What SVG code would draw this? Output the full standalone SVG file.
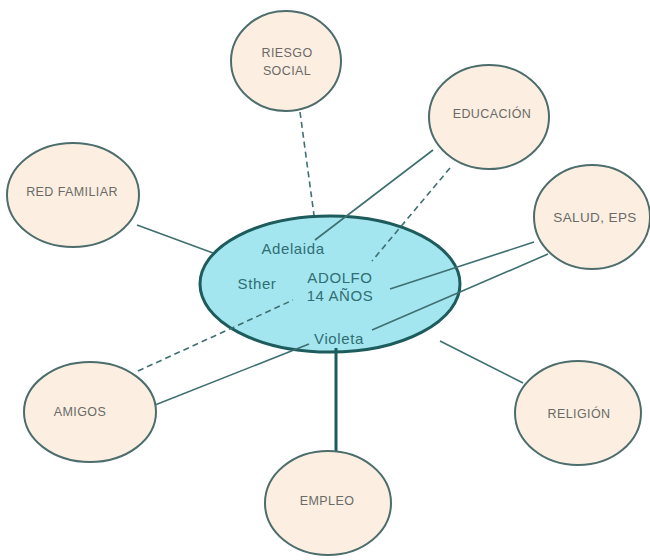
<svg xmlns="http://www.w3.org/2000/svg" width="650" height="560" viewBox="0 0 650 560">
<style>
.node ellipse{fill:#fcefe2;stroke:#4d6c6c;stroke-width:2}
.nt{font-family:"Liberation Sans",Arial,sans-serif;font-size:12.5px;letter-spacing:0.4px;fill:#6a6a66;text-anchor:middle}
.ct{font-family:"Liberation Sans",Arial,sans-serif;font-size:15px;letter-spacing:0.6px;fill:#2f6e72;text-anchor:middle}
.s{stroke:#3f6f70;stroke-width:1.6;fill:none}
.d{stroke:#3f6f70;stroke-width:1.6;fill:none;stroke-dasharray:6 4}
</style>
<rect width="650" height="560" fill="#ffffff"/>
<g id="center">
<ellipse cx="330" cy="284" rx="130" ry="68" fill="#a3e6f0" stroke="#1e5b5c" stroke-width="3"/>
<text class="ct" x="293" y="254">Adelaida</text>
<text class="ct" x="257" y="289">Sther</text>
<text class="ct" x="340" y="283">ADOLFO</text>
<text class="ct" x="340" y="301">14 AÑOS</text>
<text class="ct" x="339" y="344">Violeta</text>
</g>
<g id="connectors">
<line class="s" x1="137" y1="225" x2="213" y2="253"/>
<line class="d" x1="300" y1="112" x2="314" y2="215"/>
<line class="s" x1="433" y1="150" x2="315" y2="240"/>
<line class="d" x1="450" y1="168" x2="372" y2="261"/>
<line class="s" x1="534" y1="242" x2="390" y2="289"/>
<line class="s" x1="548" y1="254" x2="372" y2="330"/>
<line class="d" x1="138" y1="371" x2="293" y2="300"/>
<line class="s" x1="155" y1="405" x2="309" y2="344"/>
<line class="s" x1="440" y1="341" x2="523" y2="383"/>
<line x1="336" y1="348" x2="336" y2="454" stroke="#1e5b5c" stroke-width="3"/>
</g>
<g id="riesgo" class="node"><ellipse cx="286" cy="61" rx="55" ry="50"/><text class="nt" x="287" y="57">RIESGO</text><text class="nt" x="287" y="75">SOCIAL</text></g>
<g id="educacion" class="node"><ellipse cx="489" cy="117" rx="60" ry="52"/><text class="nt" x="492" y="118">EDUCACIÓN</text></g>
<g id="redfamiliar" class="node"><ellipse cx="73" cy="195" rx="66" ry="52"/><text class="nt" x="72" y="196">RED FAMILIAR</text></g>
<g id="salud" class="node"><ellipse cx="592" cy="217" rx="58" ry="52"/><text class="nt" x="595" y="222" style="font-size:13.5px">SALUD, EPS</text></g>
<g id="amigos" class="node"><ellipse cx="90" cy="412" rx="66" ry="50"/><text class="nt" x="80" y="416">AMIGOS</text></g>
<g id="religion" class="node"><ellipse cx="578" cy="413" rx="63" ry="52"/><text class="nt" x="579" y="418">RELIGIÓN</text></g>
<g id="empleo" class="node"><ellipse cx="328" cy="503" rx="63" ry="52"/><text class="nt" x="327" y="505">EMPLEO</text></g>
</svg>
